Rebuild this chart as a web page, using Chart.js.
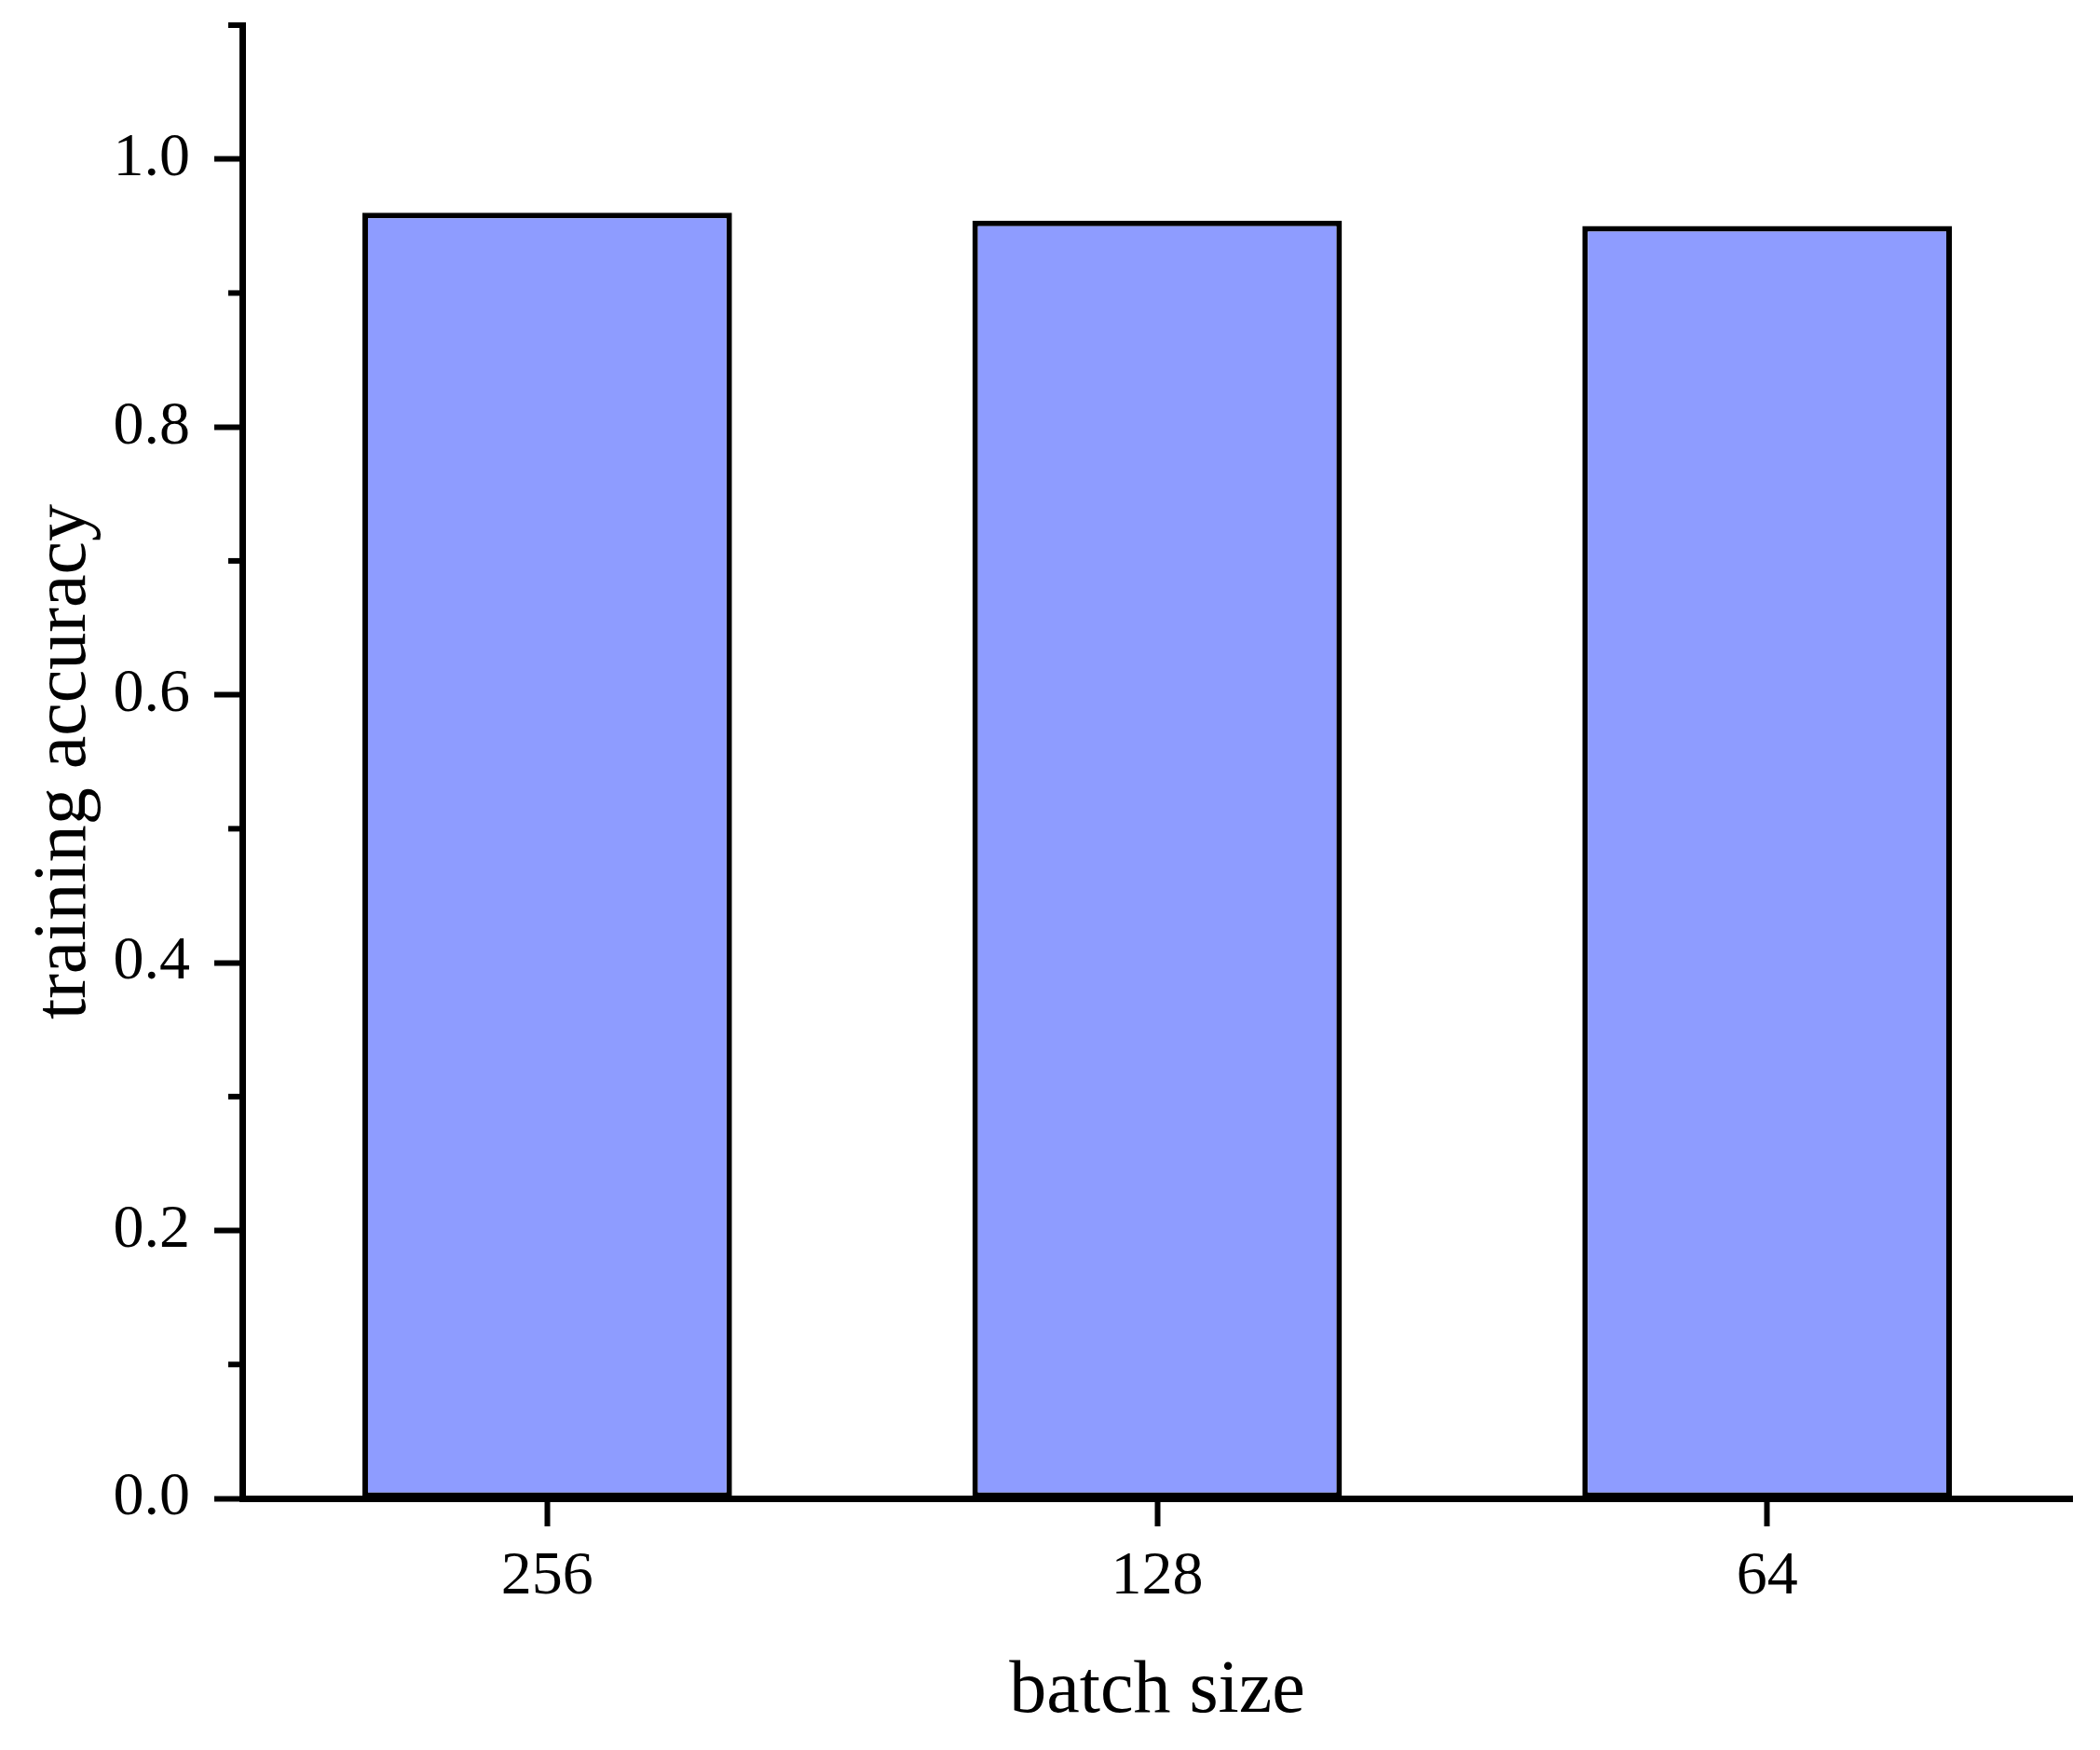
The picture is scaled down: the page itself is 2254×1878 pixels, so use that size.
<!DOCTYPE html>
<html>
<head>
<meta charset="utf-8">
<script src="https://cdn.jsdelivr.net/npm/chart.js@4/dist/chart.umd.min.js"></script>
<style>
html,body{margin:0;padding:0;background:#fff;}
#wrap{width:2254px;height:1878px;position:relative;}
</style>
</head>
<body>
<div id="wrap"><canvas id="c" width="2254" height="1878"></canvas></div>
<script>
const categories = ['256', '128', '64'];
const accuracy = [0.960, 0.954, 0.950];
const yMajorTicks = [0.0, 0.2, 0.4, 0.6, 0.8, 1.0];
const yMinorTicks = [0.1, 0.3, 0.5, 0.7, 0.9, 1.1];
const xTitle = 'batch size';
const yTitle = 'training accuracy';

const FONT = "'Liberation Serif', 'Times New Roman', serif";

const minorTickPlugin = {
  id: 'minorTicks',
  afterDraw(chart) {
    const y = chart.scales.y;
    const ctx = chart.ctx;
    const x0 = chart.chartArea.left;
    ctx.save();
    ctx.strokeStyle = '#000';
    ctx.lineWidth = 6;
    yMinorTicks.forEach(v => {
      const py = y.getPixelForValue(v);
      ctx.beginPath();
      ctx.moveTo(x0 - 15, py);
      ctx.lineTo(x0, py);
      ctx.stroke();
    });
    ctx.restore();
  }
};

new Chart(document.getElementById('c'), {
  type: 'bar',
  data: {
    labels: categories,
    datasets: [{
      data: accuracy,
      backgroundColor: '#8E9CFF',
      borderColor: '#000',
      borderWidth: 6,
      borderSkipped: false,
      barPercentage: 0.606,
      categoryPercentage: 1.0
    }]
  },
  options: {
    responsive: false,
    animation: false,
    devicePixelRatio: 1,
    layout: { padding: { top: 27, right: 30, left: 0, bottom: 0 } },
    plugins: { legend: { display: false }, tooltip: { enabled: false } },
    scales: {
      x: {
        type: 'category',
        offset: true,
        z: 1,
        grid: { display: true, drawOnChartArea: false, drawTicks: true, tickLength: 30, tickWidth: 6, tickColor: '#000', offset: false },
        border: { display: true, color: '#000', width: 7 },
        ticks: { color: '#000', font: { family: FONT, size: 66 }, padding: 15, maxRotation: 0 },
        title: { display: true, text: xTitle, color: '#000', font: { family: FONT, size: 80 }, padding: { top: 0, bottom: 14 } },
        afterFit(s) { s.height = 270; s.paddingLeft = 0; s.paddingRight = 0; }
      },
      y: {
        min: 0, max: 1.1,
        z: 1,
        afterBuildTicks(s) { s.ticks = yMajorTicks.map(v => ({ value: v })); },
        grid: { display: true, drawOnChartArea: false, drawTicks: true, tickLength: 30, tickWidth: 6, tickColor: '#000' },
        border: { display: true, color: '#000', width: 7 },
        ticks: { color: '#000', font: { family: FONT, size: 66 }, padding: 26, callback: v => Number(v).toFixed(1) },
        title: { display: true, text: yTitle, color: '#000', font: { family: FONT, size: 80 }, padding: { top: 22, bottom: 0 } },
        afterFit(s) { s.width = 260; s.paddingTop = 0; s.paddingBottom = 0; }
      }
    }
  },
  plugins: [minorTickPlugin]
});
</script>
</body>
</html>
